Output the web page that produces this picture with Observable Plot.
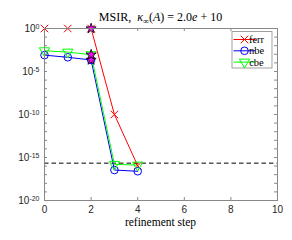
<!DOCTYPE html>
<html><head><meta charset="utf-8">
<script src="https://cdn.jsdelivr.net/npm/d3@7"></script>
<script src="https://cdn.jsdelivr.net/npm/@observablehq/plot@0.6"></script>
<style>body{margin:0;background:#fff}</style>
</head><body><div id="chart"></div>
<script>
const steps = [0, 1, 2, 3, 4];
const ferr = [1, 1, 1, 1e-10, 1.1e-16];
const nbe = [8e-4, 4.5e-4, 2.2e-4, 3.5e-17, 2.5e-17];
const cbe = [2.6e-3, 1.8e-3, 9e-4, 1.6e-16, 1.3e-16];
const epsLine = [2.2e-16];
const starStep = 2;
const seriesNames = ["ferr", "nbe", "cbe"];
const seriesColors = ["#ff0000", "#0000ff", "#00ff00"];
const xTicks = [0, 2, 4, 6, 8, 10];
const yLabelTicks = [1e0, 1e-5, 1e-10, 1e-15, 1e-20];
const yMinorTicks = [1e0,1e-1,1e-2,1e-3,1e-4,1e-5,1e-6,1e-7,1e-8,1e-9,1e-10,1e-11,1e-12,1e-13,1e-14,1e-15,1e-16,1e-17,1e-18,1e-19,1e-20];
const titleParts = [["MSIR,  ","n"],["κ","i"],["∞","s"],["(","n"],["A","i"],[") = 2.0","n"],["e","i"],[" + 10","n"]];
const xLabel = "refinement step";

const seriesData = {ferr, nbe, cbe};
const rows = seriesNames.flatMap(s => steps.map((st, i) => ({step: st, value: seriesData[s][i], series: s})));

const W = 292, H = 240, mL = 44, mR = 15, mT = 28, mB = 40;
const innerW = W - mL - mR, innerH = H - mT - mB;
const axisColor = "#888";
const serif = "'Liberation Serif', 'Times New Roman', serif";

const plot = Plot.plot({
  width: W, height: H,
  marginLeft: mL, marginRight: mR, marginTop: mT, marginBottom: mB,
  style: {fontFamily: "'Liberation Sans', Arial, sans-serif", fontSize: "10px", color: "#262626", background: "white"},
  x: {domain: [0, 10]},
  y: {type: "log", domain: [1e-20, 1]},
  color: {domain: seriesNames, range: seriesColors},
  marks: [
    Plot.ruleY(epsLine, {y: d => d, stroke: "black", strokeDasharray: "4.5,3", strokeWidth: 1}),
    Plot.line(rows, {x: "step", y: "value", z: "series", stroke: "series", strokeWidth: 1}),
    Plot.dot(rows.filter(d => d.series === "ferr"), {x: "step", y: "value", symbol: "times", r: 3.5, stroke: "#ff0000", strokeWidth: 1}),
    Plot.dot(rows.filter(d => d.series === "nbe"), {x: "step", y: "value", symbol: "circle", r: 3.8, stroke: "#0000ff", fill: "none", strokeWidth: 1}),
    Plot.dot(rows.filter(d => d.series === "cbe"), {x: "step", y: "value", symbol: "triangle", rotate: 180, r: 3.8, stroke: "#00ff00", fill: "none", strokeWidth: 1}),
    Plot.dot(rows.filter(d => d.step === starStep), {x: "step", y: "value", symbol: "star", r: 3.2, fill: "#ff00ff", stroke: "black", strokeWidth: 0.8}),
    Plot.frame({stroke: axisColor}),
    Plot.tickX(xTicks, {x: d => d, insetTop: innerH - 3, stroke: axisColor}),
    Plot.tickX(xTicks, {x: d => d, insetBottom: innerH - 3, stroke: axisColor}),
    Plot.tickY(yMinorTicks, {y: d => d, insetRight: innerW - 3, stroke: axisColor}),
    Plot.tickY(yMinorTicks, {y: d => d, insetLeft: innerW - 3, stroke: axisColor}),
    Plot.axisX({ticks: xTicks, tickSize: 0, tickPadding: 5, label: null}),
    Plot.axisY({ticks: yLabelTicks, tickSize: 0, tickPadding: 5, label: null, tickFormat: d => "10^" + Math.round(Math.log10(d))})
  ]
});
document.getElementById("chart").appendChild(plot);

const svg = d3.select(plot);
// superscripts for y tick labels
svg.selectAll('g[aria-label="y-axis tick label"] text').each(function() {
  const t = d3.select(this);
  const s = t.text();
  if (!s.startsWith("10^")) return;
  const e = s.slice(3);
  t.text(null);
  t.append("tspan").text("10");
  t.append("tspan").attr("dy", "-0.45em").attr("font-size", "7px").text(e);
});
// title with math styling
const cx = mL + innerW / 2;
const title = svg.append("text").attr("x", cx).attr("y", 21).attr("text-anchor", "middle")
  .attr("font-family", serif).attr("font-size", "12px").attr("fill", "black");
let sub = false;
for (const [str, kind] of titleParts) {
  const ts = title.append("tspan").text(str);
  if (kind === "i") ts.attr("font-style", "italic");
  if (kind === "s") { ts.attr("font-size", "8.5px").attr("dy", 3); sub = true; }
  else if (sub) { ts.attr("dy", -3); sub = false; }
}
svg.append("text").attr("x", cx).attr("y", 226).attr("text-anchor", "middle")
  .attr("font-family", serif).attr("font-size", "11.5px").attr("fill", "black").text(xLabel);
// legend
const lg = svg.append("g").attr("font-family", serif).attr("font-size", "10.5px");
const lx = W - mR - 5 - 40, ly = mT + 3.5;
lg.append("rect").attr("x", lx).attr("y", ly).attr("width", 40).attr("height", 36.5).attr("fill", "white").attr("stroke", axisColor).attr("stroke-width", 0.8);
const symMap = {ferr: [d3.symbolTimes, 0], nbe: [d3.symbolCircle, 0], cbe: [d3.symbolTriangle, 180]};
const symSize = {ferr: 3.5, nbe: 3.8, cbe: 3.8};
seriesNames.forEach((s, i) => {
  const y = ly + 8 + i * 11.3;
  const c = seriesColors[i];
  lg.append("line").attr("x1", lx + 1.5).attr("x2", lx + 23.5).attr("y1", y).attr("y2", y).attr("stroke", c).attr("stroke-width", 1);
  const [sym, rot] = symMap[s];
  const r = symSize[s];
  lg.append("path").attr("d", d3.symbol(sym, Math.PI * r * r)()).attr("transform", `translate(${lx + 12.5},${y}) rotate(${rot})`).attr("fill", "none").attr("stroke", c).attr("stroke-width", 1);
  lg.append("text").attr("x", lx + 24.5).attr("y", y).attr("dy", "0.35em").attr("fill", "black").text(s);
});
</script>
</body></html>
